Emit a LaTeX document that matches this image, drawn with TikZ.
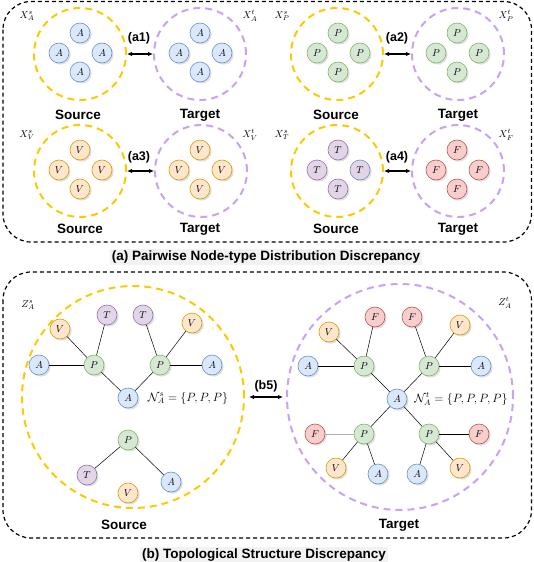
\documentclass[tikz,border=0pt]{standalone}
\usepackage{fontspec}
\newfontfamily\labelfont{Liberation Sans}
\usetikzlibrary{arrows.meta,shadows}
\definecolor{fillA}{HTML}{DAE8FC}\definecolor{lineA}{HTML}{6C8EBF}
\definecolor{fillP}{HTML}{D5E8D4}\definecolor{lineP}{HTML}{82B366}
\definecolor{fillV}{HTML}{FFE6CC}\definecolor{lineV}{HTML}{D79B00}
\definecolor{fillT}{HTML}{E1D5E7}\definecolor{lineT}{HTML}{9673A6}
\definecolor{fillF}{HTML}{F8CECC}\definecolor{lineF}{HTML}{B85450}
\definecolor{ringY}{HTML}{FFC800}
\definecolor{ringU}{HTML}{C9A0FA}
\tikzset{
  gnode/.style={circle, minimum size=20pt, inner sep=0pt, line width=0.6pt,
    font=\fontsize{10}{12}\selectfont,
    drop shadow={shadow xshift=1.6pt, shadow yshift=-1.6pt, fill=black!25}},
  nA/.style={gnode, fill=fillA, draw=lineA},
  nP/.style={gnode, fill=fillP, draw=lineP},
  nV/.style={gnode, fill=fillV, draw=lineV},
  nT/.style={gnode, fill=fillT, draw=lineT},
  nF/.style={gnode, fill=fillF, draw=lineF},
  srcring/.style={circle, draw=ringY, line width=2pt, dash pattern=on 7pt off 5pt, inner sep=0pt, minimum size=92pt},
  tgtring/.style={circle, draw=ringU, line width=2pt, dash pattern=on 7pt off 5pt, inner sep=0pt, minimum size=92pt},
  outerbox/.style={draw, line width=1.2pt, dash pattern=on 4pt off 3pt, rounded corners=28pt},
  sidelabel/.style={font=\labelfont\bfseries\fontsize{13.5}{16}\selectfont},
  pairlabel/.style={font=\labelfont\bfseries\fontsize{12.5}{14}\selectfont},
  caption/.style={font=\labelfont\bfseries\fontsize{13.5}{16}\selectfont, fill=black!5, inner sep=2pt},
  setlabel/.style={font=\fontsize{10}{12}\selectfont, inner sep=0.5pt},
  pairarrow/.style={{Latex[length=5pt,width=4.5pt]}-{Latex[length=5pt,width=4.5pt]}, line width=1.2pt},
  edge/.style={line width=0.5pt},
  mainedge/.style={line width=0.8pt},
}
\def\nodeset[#1](#2)(#3,#4)#5{%
  \node[#1] (#2t) at (#3,#4-20) {$#5$};
  \node[#1] (#2l) at (#3-21,#4) {$#5$};
  \node[#1] (#2r) at (#3+22,#4) {$#5$};
  \node[#1] (#2b) at (#3,#4+19) {$#5$};}

\begin{document}
\begin{tikzpicture}[x=1pt,y=-1pt]
  \useasboundingbox (0,0) rectangle (534,562);
  %%%%% (a) PAIRWISE %%%%%
  \draw[outerbox] (3,1.5) rectangle (531.5,242);
  
  % A pair
  \node[srcring] (ringsA) at (80,54) {};
  \node[tgtring] (ringtA) at (200,54) {};
  \nodeset[nA](sA)(80,53){A}
  \nodeset[nA](tA)(200,53){A}
  \node[setlabel] (xsA) at (27,16) {$X_A^s$};
  \node[setlabel] (xtA) at (250,16) {$X_A^t$};
  \draw[pairarrow] (ringsA) -- (ringtA);
  \node[pairlabel] (la1) at (139,38) {(a1)};
  \node[sidelabel] (srcA) at (78,115) {Source};
  \node[sidelabel] (tgtA) at (200,115) {Target};
  
  % P pair
  \node[srcring] (ringsP) at (337,54) {};
  \node[tgtring] (ringtP) at (458,54) {};
  \nodeset[nP](sP)(338,53){P}
  \nodeset[nP](tP)(457,53){P}
  \node[setlabel] (xsP) at (282,16) {$X_P^s$};
  \node[setlabel] (xtP) at (506,16) {$X_P^t$};
  \draw[pairarrow] (ringsP) -- (ringtP);
  \node[pairlabel] (la2) at (397,38) {(a2)};
  \node[sidelabel] (srcP) at (336,115) {Source};
  \node[sidelabel] (tgtP) at (458,115) {Target};
  
  % V pair
  \node[srcring] (ringsV) at (80,171) {};
  \node[tgtring] (ringtV) at (201,171) {};
  \nodeset[nV](sV)(80,170){V}
  \nodeset[nV](tV)(200,170){V}
  \node[setlabel] (xsV) at (27,135) {$X_V^s$};
  \node[setlabel] (xtV) at (250,135) {$X_V^t$};
  \draw[pairarrow] (ringsV) -- (ringtV);
  \node[pairlabel] (la3) at (139,157) {(a3)};
  \node[sidelabel] (srcV) at (80,229) {Source};
  \node[sidelabel] (tgtV) at (200,229) {Target};
  
  % T / F pair
  \node[srcring] (ringsT) at (337,171) {};
  \node[tgtring] (ringtF) at (458,171) {};
  \node[nT] (sTt) at (338,150) {$T$};
  \node[nT] (sTl) at (317,170) {$T$};
  \node[nT, draw=lineA] (sTr) at (360,170) {$T$};
  \node[nT] (sTb) at (338,189) {$T$};
  \nodeset[nF](tF)(457,170){F}
  \node[setlabel] (xsT) at (282,135) {$X_T^s$};
  \node[setlabel] (xtF) at (506,135) {$X_F^t$};
  \draw[pairarrow] (ringsT) -- (ringtF);
  \node[pairlabel] (la4) at (397,157) {(a4)};
  \node[sidelabel] (srcT) at (336,229) {Source};
  \node[sidelabel] (tgtF) at (458,229) {Target};
  
  \node[caption] (capA) at (266,257) {(a) Pairwise Node-type Distribution Discrepancy};
  
  %%%%% (b) TOPOLOGY %%%%%
  \draw[outerbox] (3,272) rectangle (531.5,538);
  \node[srcring, minimum size=222pt] (ringsZ) at (133,397) {};
  \node[tgtring, minimum size=226pt] (ringtZ) at (400,397) {};
  \node[setlabel] (zsA) at (28,305) {$Z_A^s$};
  \node[setlabel] (ztA) at (505,303) {$Z_A^t$};
  \draw[pairarrow, shorten <=4pt, shorten >=3pt] (ringsZ) -- (ringtZ);
  \node[pairlabel] (lb5) at (266,386) {(b5)};
  
  % source graph
  \node[nV] (gsV1) at (60,329) {$V$};
  \node[nT] (gsT1) at (107,315) {$T$};
  \node[nT] (gsT2) at (143,315) {$T$};
  \node[nV] (gsV2) at (192,323) {$V$};
  \node[nA] (gsA1) at (39,365) {$A$};
  \node[nP] (gsP1) at (94,365) {$P$};
  \node[nP] (gsP2) at (160,365) {$P$};
  \node[nA] (gsA2) at (212,365) {$A$};
  \node[nA] (gsAc) at (128,398) {$A$};
  \node[nP] (gsP3) at (128,440) {$P$};
  \node[nT] (gsT3) at (87,475) {$T$};
  \node[nA] (gsA3) at (171,482) {$A$};
  \node[nV] (gsV3) at (128,493) {$V$};
  \draw[mainedge] (gsA1) -- (gsP1);
  \draw[mainedge] (gsP2) -- (gsA2);
  \draw[edge] (gsV1) -- (gsP1);
  \draw[edge] (gsT1) -- (gsP1);
  \draw[edge] (gsP1) -- (gsAc);
  \draw[edge] (gsP2) -- (gsAc);
  \draw[edge] (gsT2) -- (gsP2);
  \draw[edge] (gsV2) -- (gsP2);
  \draw[edge] (gsP3) -- (gsT3);
  \draw[edge] (gsP3) -- (gsA3);
  \node[font=\fontsize{12}{14}\selectfont] (nbS) at (188,398) {$\mathcal{N}_A^s=\{P,P,P\}$};
  \node[sidelabel] (srcZ) at (124,525) {Source};
  
  % target graph
  \node[nV] (gtV1) at (329,332) {$V$};
  \node[nF] (gtF1) at (375,317) {$F$};
  \node[nF] (gtF2) at (412,317) {$F$};
  \node[nV] (gtV2) at (460,325) {$V$};
  \node[nA] (gtA1) at (308,366) {$A$};
  \node[nP] (gtP1) at (364,366) {$P$};
  \node[nP] (gtP2) at (429,366) {$P$};
  \node[nA] (gtA2) at (481,366) {$A$};
  \node[nA] (gtAc) at (397,399) {$A$};
  \node[nF] (gtF3) at (315,434) {$F$};
  \node[nP] (gtP3) at (364,434) {$P$};
  \node[nP] (gtP4) at (429,434) {$P$};
  \node[nF] (gtF4) at (479,434) {$F$};
  \node[nV] (gtV3) at (336,468) {$V$};
  \node[nA] (gtA3) at (378,474) {$A$};
  \node[nA] (gtA4) at (417,474) {$A$};
  \node[nV] (gtV4) at (460,468) {$V$};
  \draw[mainedge] (gtA1) -- (gtP1);
  \draw[mainedge] (gtP2) -- (gtA2);
  \draw[mainedge] (gtP4) -- (gtF4);
  \draw[mainedge, black!30] (gtF3) -- (gtP3);
  \draw[edge] (gtV1) -- (gtP1);
  \draw[edge] (gtF1) -- (gtP1);
  \draw[edge] (gtP1) -- (gtAc);
  \draw[edge] (gtP2) -- (gtAc);
  \draw[edge] (gtF2) -- (gtP2);
  \draw[edge] (gtV2) -- (gtP2);
  \draw[edge] (gtAc) -- (gtP3);
  \draw[edge] (gtAc) -- (gtP4);
  \draw[edge] (gtP3) -- (gtV3);
  \draw[edge] (gtP3) -- (gtA3);
  \draw[edge] (gtP4) -- (gtA4);
  \draw[edge] (gtP4) -- (gtV4);
  \node[font=\fontsize{12}{14}\selectfont] (nbT) at (461,399) {$\mathcal{N}_A^t=\{P,P,P,P\}$};
  \node[sidelabel] (tgtZ) at (399,525) {Target};
  
  \node[caption] (capB) at (264,555) {(b) Topological Structure Discrepancy};
  
  %%%%% END %%%%%
\end{tikzpicture}
\end{document}
